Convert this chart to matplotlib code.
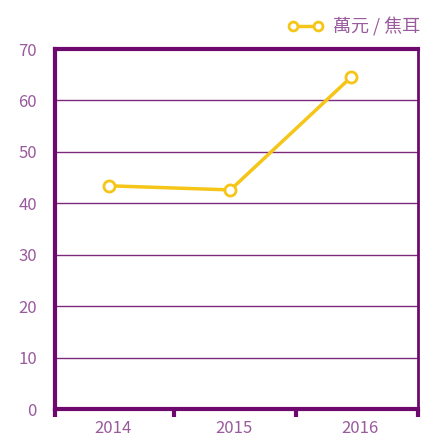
import numpy as np
import matplotlib.pyplot as plt

years = ['2014', '2015', '2016']
values = [43.4, 42.6, 64.6]
series_name = '萬元 / 焦耳'

purple = '#6e0a6e'
grid_col = '#7d2a7d'
text_col = '#9a5a9e'
gold = '#f5c518'

plt.rcParams['font.family'] = ['Noto Sans CJK TC', 'DejaVu Sans']

fig = plt.figure(figsize=(4.21, 4.36), dpi=100)
ax = fig.add_axes([55 / 421, 1 - 409 / 436, 363 / 421, 360 / 436])

x = np.arange(len(years))
ax.plot(x, values, color=gold, lw=2.5, marker='o', ms=8, mfc='white',
        mec=gold, mew=2, label=series_name, zorder=3)

ax.set_xlim(-0.45, 2.55)
ax.set_ylim(0, 70)
ax.set_yticks(range(0, 71, 10))
ax.yaxis.grid(True, color=grid_col, lw=1)
ax.set_axisbelow(True)

ax.set_xticks(x + [0.03, 0.03, 0.07])
ax.set_xticklabels(years)
ax.set_xticks([-0.45, 0.53, 1.545, 2.55], minor=True)
ax.tick_params(axis='x', which='major', length=0, labelsize=12, labelcolor=text_col, pad=8)
ax.tick_params(axis='x', which='minor', length=6, width=3, color=purple)
ax.tick_params(axis='y', length=0, labelsize=12, labelcolor=text_col, pad=13)

for side, w in [('left', 3), ('top', 3), ('bottom', 3), ('right', 2)]:
    ax.spines[side].set_color(purple)
    ax.spines[side].set_linewidth(w)

leg = ax.legend(loc='lower right', bbox_to_anchor=(1.035, 1.005), frameon=False,
                fontsize=13, handlelength=2.0, numpoints=2, markerscale=0.8,
                borderaxespad=0.2, handletextpad=0.5)
for t in leg.get_texts():
    t.set_color(text_col)

fig.savefig('out.png', dpi=100)
